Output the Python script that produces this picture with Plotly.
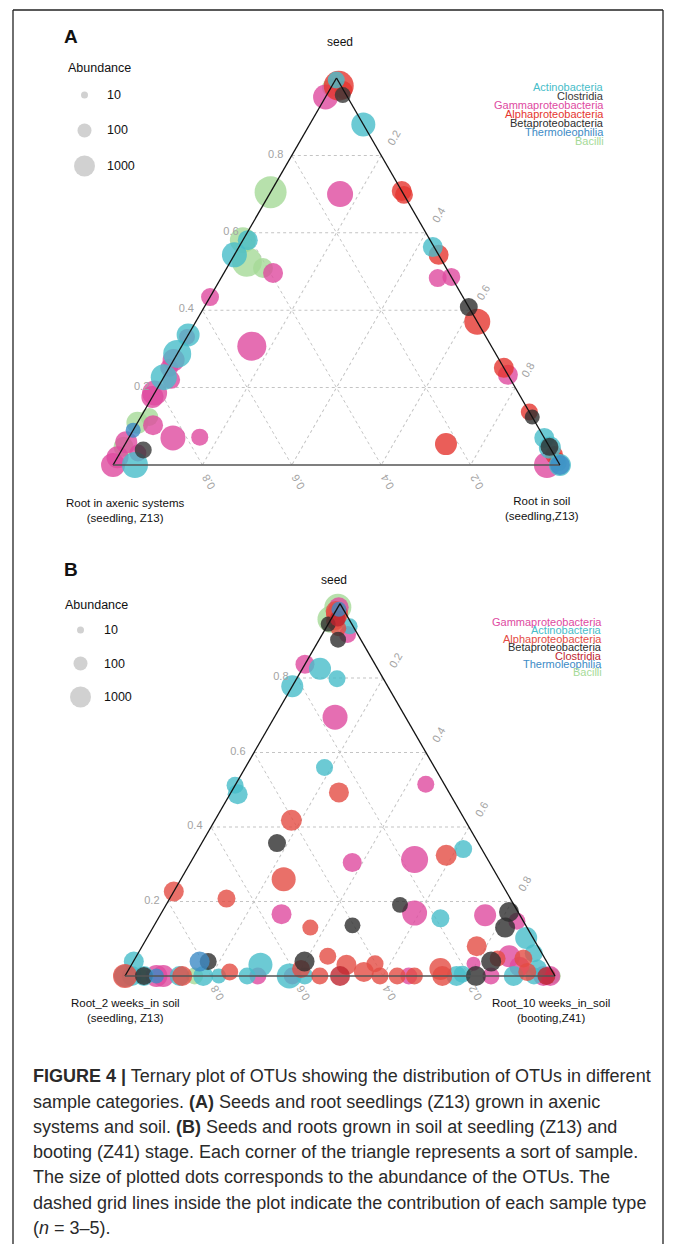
import numpy as np
import plotly.graph_objects as go

W, H = 673, 1244

# ---------------- data ----------------
CLASSES_A = ["Actinobacteria", "Clostridia", "Gammaproteobacteria", "Alphaproteobacteria",
             "Betaproteobacteria", "Thermoleophilia", "Bacilli"]
CLASSES_B = ["Gammaproteobacteria", "Actinobacteria", "Alphaproteobacteria", "Betaproteobacteria",
             "Clostridia", "Thermoleophilia", "Bacilli"]
TICK_VALS = [0.2, 0.4, 0.6, 0.8]
ABUNDANCE_LEVELS = [10, 100, 1000]
CORNERS_A = ["seed", "Root in axenic systems<br>(seedling, Z13)", "Root in soil<br>(seedling,Z13)"]
CORNERS_B = ["seed", "Root_2 weeks_in soil<br>(seedling, Z13)", "Root_10 weeks_in_soil<br>(booting,Z41)"]

# rows: (seed, left corner, right corner, abundance)
A_ACTINO = [(0.995, 0.003, 0.002, 270), (0.88, 0.0, 0.12, 2700), (0.563, 0.003, 0.434, 720),
            (0.581, 0.408, 0.011, 720), (0.543, 0.457, 0.0, 3700), (0.336, 0.664, 0.0, 1900),
            (0.287, 0.713, 0.0, 10000), (0.227, 0.773, 0.0, 5200), (0.0, 0.951, 0.049, 5200),
            (0.07, 0.0, 0.93, 720), (0.045, 0.0, 0.955, 1400), (0.0, 0.0, 1.0, 1400),
            (0.005, 0.0, 0.995, 190)]
A_CLOST = [(0.956, 0.008, 0.036, 190), (0.039, 0.913, 0.048, 270)]
A_GAMMA = [(0.951, 0.049, 0.0, 3700), (0.70, 0.142, 0.158, 5200), (0.496, 0.394, 0.11, 720),
           (0.483, 0.032, 0.485, 370), (0.486, 0.0, 0.514, 370), (0.434, 0.566, 0.0, 370),
           (0.307, 0.536, 0.157, 14000), (0.331, 0.669, 0.0, 190), (0.271, 0.729, 0.0, 1400),
           (0.22, 0.76, 0.02, 370), (0.251, 0.749, 0.0, 370), (0.186, 0.814, 0.0, 3700),
           (0.176, 0.824, 0.0, 1400), (0.233, 0.0, 0.767, 720), (0.103, 0.859, 0.038, 720),
           (0.07, 0.831, 0.099, 3700), (0.072, 0.77, 0.158, 270), (0.031, 0.929, 0.04, 270),
           (0.059, 0.941, 0.0, 1400), (0.0, 1.0, 0.0, 2700), (0.02, 0.98, 0.0, 1400),
           (0.0, 0.029, 0.971, 5200)]
A_ALPHA = [(0.98, 0.005, 0.015, 19000), (0.969, 0.0, 0.031, 370), (0.708, 0.0, 0.292, 720),
           (0.698, 0.0, 0.302, 370), (0.543, 0.0, 0.457, 720), (0.37, 0.0, 0.63, 5200),
           (0.251, 0.0, 0.749, 720), (0.054, 0.228, 0.718, 1400), (0.137, 0.0, 0.863, 270),
           (0.026, 0.0, 0.974, 370), (0.013, 0.0, 0.987, 190)]
A_BETA = [(0.408, 0.0, 0.592, 370), (0.124, 0.0, 0.876, 140), (0.047, 0.0, 0.953, 370)]
A_THERMO = [(0.09, 0.91, 0.0, 140), (0.0, 0.0, 1.0, 720)]
A_BACILLI = [(0.975, 0.025, 0.0, 370), (0.705, 0.295, 0.0, 37000), (0.581, 0.419, 0.0, 5200),
             (0.525, 0.438, 0.037, 19000), (0.509, 0.41, 0.081, 720), (0.124, 0.857, 0.019, 370),
             (0.109, 0.891, 0.0, 1400), (0.047, 0.953, 0.0, 720)]

B_GAMMA = [(0.99, 0.008, 0.002, 720), (0.917, 0.024, 0.059, 270), (0.837, 0.163, 0.0, 520),
           (0.695, 0.164, 0.141, 3700), (0.515, 0.043, 0.442, 270), (0.313, 0.17, 0.517, 7200),
           (0.305, 0.319, 0.376, 520), (0.166, 0.553, 0.281, 720), (0.169, 0.242, 0.589, 3700),
           (0.163, 0.081, 0.756, 1400), (0.147, 0.015, 0.838, 270), (0.033, 0.173, 0.794, 100),
           (0.053, 0.08, 0.867, 1400), (0.025, 0.07, 0.905, 720), (0.0, 0.927, 0.073, 1400),
           (0.0, 0.911, 0.089, 1400), (0.0, 0.691, 0.309, 270), (0.0, 0.611, 0.389, 270),
           (0.0, 0.34, 0.66, 270), (0.0, 0.149, 0.851, 270), (0.0, 0.027, 0.973, 720),
           (0.0, 0.011, 0.989, 720)]
B_ACTINO = [(0.939, 0.008, 0.053, 190), (0.825, 0.134, 0.041, 1400), (0.798, 0.108, 0.094, 270),
            (0.778, 0.222, 0.0, 1400), (0.56, 0.256, 0.184, 270), (0.512, 0.488, 0.0, 270),
            (0.488, 0.494, 0.018, 720), (0.341, 0.043, 0.616, 370), (0.155, 0.189, 0.656, 370),
            (0.102, 0.016, 0.882, 1400), (0.061, 0.019, 0.92, 370), (0.039, 0.96, 0.001, 720),
            (0.0, 1.0, 0.0, 1400), (0.0, 0.984, 0.016, 720), (0.0, 0.956, 0.044, 720),
            (0.0, 0.873, 0.127, 720), (0.0, 0.818, 0.182, 720), (0.0, 0.782, 0.218, 140),
            (0.0, 0.716, 0.284, 270), (0.03, 0.67, 0.30, 2700), (0.0, 0.618, 0.382, 3700),
            (0.0, 0.582, 0.418, 270), (0.0, 0.229, 0.771, 720), (0.005, 0.213, 0.782, 270),
            (0.0, 0.096, 0.904, 720), (0.0, 0.049, 0.951, 270), (0.02, 0.03, 0.95, 370)]
B_ALPHA = [(0.98, 0.02, 0.0, 720), (0.972, 0.021, 0.007, 1400), (0.953, 0.035, 0.012, 370),
           (0.934, 0.037, 0.029, 190), (0.493, 0.256, 0.251, 720), (0.418, 0.404, 0.178, 1000),
           (0.324, 0.091, 0.585, 1000), (0.26, 0.501, 0.239, 2700), (0.227, 0.773, 0.0, 720),
           (0.208, 0.66, 0.132, 370), (0.13, 0.504, 0.366, 190), (0.08, 0.142, 0.778, 720),
           (0.047, 0.11, 0.843, 190), (0.047, 0.05, 0.903, 370), (0.011, 0.059, 0.93, 370),
           (0.0, 1.0, 0.0, 2700), (0.0, 0.867, 0.133, 720), (0.011, 0.751, 0.238, 270),
           (0.019, 0.581, 0.40, 370), (0.0, 0.547, 0.453, 270), (0.053, 0.502, 0.445, 270),
           (0.03, 0.47, 0.50, 720), (0.011, 0.439, 0.55, 720), (0.033, 0.402, 0.565, 270),
           (0.0, 0.407, 0.593, 270), (0.0, 0.367, 0.633, 270), (0.0, 0.327, 0.673, 270),
           (0.019, 0.257, 0.724, 1400), (0.0, 0.262, 0.738, 720)]
B_BETA = [(0.945, 0.055, 0.0, 140), (0.903, 0.053, 0.044, 190), (0.357, 0.468, 0.175, 370),
          (0.136, 0.403, 0.461, 190), (0.191, 0.265, 0.544, 190), (0.172, 0.021, 0.807, 720),
          (0.13, 0.051, 0.819, 720), (0.039, 0.129, 0.832, 720), (0.039, 0.787, 0.174, 270),
          (0.039, 0.563, 0.398, 720), (0.0, 0.184, 0.816, 720), (0.0, 0.956, 0.044, 370)]
B_CLOST = [(0.0, 0.5, 0.5, 720), (0.96, 0.025, 0.015, 190), (0.0, 0.02, 0.98, 370)]
B_THERMO = [(0.985, 0.01, 0.005, 140), (0.0, 0.927, 0.073, 140), (0.039, 0.807, 0.154, 720)]
B_BACILLI = [(0.99, 0.01, 0.0, 7200), (0.958, 0.042, 0.0, 7200), (0.0, 0.96, 0.04, 100),
             (0.0, 0.838, 0.162, 270), (0.0, 0.004, 0.996, 140)]

CAPTION = [
    "<b>FIGURE 4 |</b> Ternary plot of OTUs showing the distribution of OTUs in different",
    "sample categories. <b>(A)</b> Seeds and root seedlings (Z13) grown in axenic",
    "systems and soil. <b>(B)</b> Seeds and roots grown in soil at seedling (Z13) and",
    "booting (Z41) stage. Each corner of the triangle represents a sort of sample.",
    "The size of plotted dots corresponds to the abundance of the OTUs. The",
    "dashed grid lines inside the plot indicate the contribution of each sample type",
    "(<i>n</i> = 3–5).",
]

# ---------------- style ----------------
COL_A = {"Actinobacteria": "#47BDC9", "Clostridia": "#383838", "Gammaproteobacteria": "#DE4A9F",
         "Alphaproteobacteria": "#E5362F", "Betaproteobacteria": "#2E2E2E",
         "Thermoleophilia": "#3D8BC6", "Bacilli": "#A5DA97"}
COL_B = dict(COL_A, **{"Clostridia": "#BE2630", "Alphaproteobacteria": "#E44C44"})

FONT = "Liberation Sans, Arial, sans-serif"


def px(x):
    return x / W


def py(y):
    return 1 - y / H


def msize(ab):
    return 7 * np.log10(np.asarray(ab, dtype=float))


fig = go.Figure()

series_A = [("Bacilli", A_BACILLI), ("Gammaproteobacteria", A_GAMMA), ("Alphaproteobacteria", A_ALPHA),
            ("Actinobacteria", A_ACTINO), ("Betaproteobacteria", A_BETA), ("Clostridia", A_CLOST),
            ("Thermoleophilia", A_THERMO)]
series_B = [("Bacilli", B_BACILLI), ("Gammaproteobacteria", B_GAMMA), ("Actinobacteria", B_ACTINO),
            ("Alphaproteobacteria", B_ALPHA), ("Betaproteobacteria", B_BETA), ("Clostridia", B_CLOST),
            ("Thermoleophilia", B_THERMO)]

for sub, series, cols in [("ternary", series_A, COL_A), ("ternary2", series_B, COL_B)]:
    for name, rows in series:
        arr = np.array(rows, dtype=float)
        fig.add_trace(go.Scatterternary(
            a=arr[:, 0], b=arr[:, 1], c=arr[:, 2], mode="markers", name=name,
            subplot=sub, showlegend=False, cliponaxis=False,
            marker=dict(size=msize(arr[:, 3]), color=cols[name], opacity=0.8, line=dict(width=0)),
        ))

# abundance size legends (log-scaled cartesian axes)
for xa, ya in [("x", "y"), ("x2", "y2")]:
    fig.add_trace(go.Scatter(x=[0.5] * 3, y=ABUNDANCE_LEVELS, mode="markers", xaxis=xa, yaxis=ya,
                             showlegend=False, cliponaxis=False,
                             marker=dict(size=msize(ABUNDANCE_LEVELS), color="#BDBDBD", line=dict(width=0))))


def tern(x0, x1, y0, y1):
    common = dict(min=0, tickvals=TICK_VALS, tickformat=".1f", showgrid=True,
                  gridcolor="#C4C4C4", griddash="dot", gridwidth=1,
                  ticks="outside", ticklen=6, tickcolor="rgba(0,0,0,0)",
                  tickfont=dict(size=11, color="#A3A3A3", family=FONT),
                  title=dict(text=""), showline=True, linewidth=1.3)
    return dict(domain=dict(x=[px(x0), px(x1)], y=[py(y1), py(y0)]), sum=1, bgcolor="white",
                aaxis=dict(common, linecolor="#111111"),
                baxis=dict(common, linecolor="#555555", tickangle=-120, ticklen=2),
                caxis=dict(common, linecolor="#111111", tickangle=-60, ticklen=10))


side_b = 430
h_b = side_b * np.sqrt(3) / 2

fig.update_layout(
    width=W, height=H, autosize=False, margin=dict(l=0, r=0, t=0, b=0),
    paper_bgcolor="white", plot_bgcolor="rgba(0,0,0,0)",
    ternary=tern(113, 560, 78, 465),
    ternary2=tern(125, 125 + side_b, 976 - h_b, 976),
    xaxis=dict(domain=[px(80), px(89)], range=[0, 1], visible=False, fixedrange=True),
    yaxis=dict(domain=[py(166), py(95)], type="log", range=[3, 1], visible=False, fixedrange=True),
    xaxis2=dict(domain=[px(76), px(85)], range=[0, 1], visible=False, fixedrange=True, anchor="y2"),
    yaxis2=dict(domain=[py(697), py(630)], type="log", range=[3, 1], visible=False, fixedrange=True,
                anchor="x2"),
    showlegend=False,
)

ann = []


def txt(text, x, y, size=12, color="#111111", xanchor="center", family=FONT, **kw):
    ann.append(dict(text=text, x=px(x), y=py(y), xref="paper", yref="paper", showarrow=False,
                    xanchor=xanchor, yanchor="middle", font=dict(size=size, color=color, family=family),
                    **kw))


# panel letters
txt("<b>A</b>", 62, 37, size=19, xanchor="left")
txt("<b>B</b>", 62, 569, size=19, xanchor="left")

# corner labels
txt(CORNERS_A[0], 340, 42, size=12)
txt(CORNERS_A[1], 125, 511, size=11.5)
txt(CORNERS_A[2], 542, 508, size=11.5)
txt(CORNERS_B[0], 334, 580, size=12)
txt(CORNERS_B[1], 125, 1010, size=11.5)
txt(CORNERS_B[2], 551, 1010, size=11.5)

# abundance legends
txt("Abundance", 66, 68, size=12.5, xanchor="left")
txt("Abundance", 63, 605, size=12.5, xanchor="left")
for yref, xl in [("y", 105), ("y2", 102)]:
    for v in ABUNDANCE_LEVELS:
        ann.append(dict(text=str(v), x=px(xl), y=np.log10(v), xref="paper", yref=yref, showarrow=False,
                        xanchor="left", yanchor="middle", font=dict(size=12.5, color="#111111", family=FONT)))

# class legends
for i, name in enumerate(CLASSES_A):
    txt(name, 606, 87 + 9 * i, size=11, color=COL_A[name], xanchor="right")
for i, name in enumerate(CLASSES_B):
    txt(name, 604, 622 + 8.4 * i, size=11, color=COL_B[name], xanchor="right")

# caption
cap_y = [1076, 1101.5, 1127, 1152, 1177, 1203, 1228]
for line, yy in zip(CAPTION, cap_y):
    txt(line, 31, yy, size=18, color="#2A2A2A", xanchor="left")

fig.update_layout(annotations=ann)

# frame
for x0, y0, x1, y1 in [(13, 10, 663, 10), (13, 10, 13, H), (663, 10, 663, H)]:
    fig.add_shape(type="line", xref="paper", yref="paper", x0=px(x0), y0=py(y0), x1=px(x1), y1=py(y1),
                  line=dict(color="#222222", width=1.3))

fig.write_html("out.html", config={"displayModeBar": False},
               post_script="document.body.style.margin='0px';document.body.style.padding='0px';")
